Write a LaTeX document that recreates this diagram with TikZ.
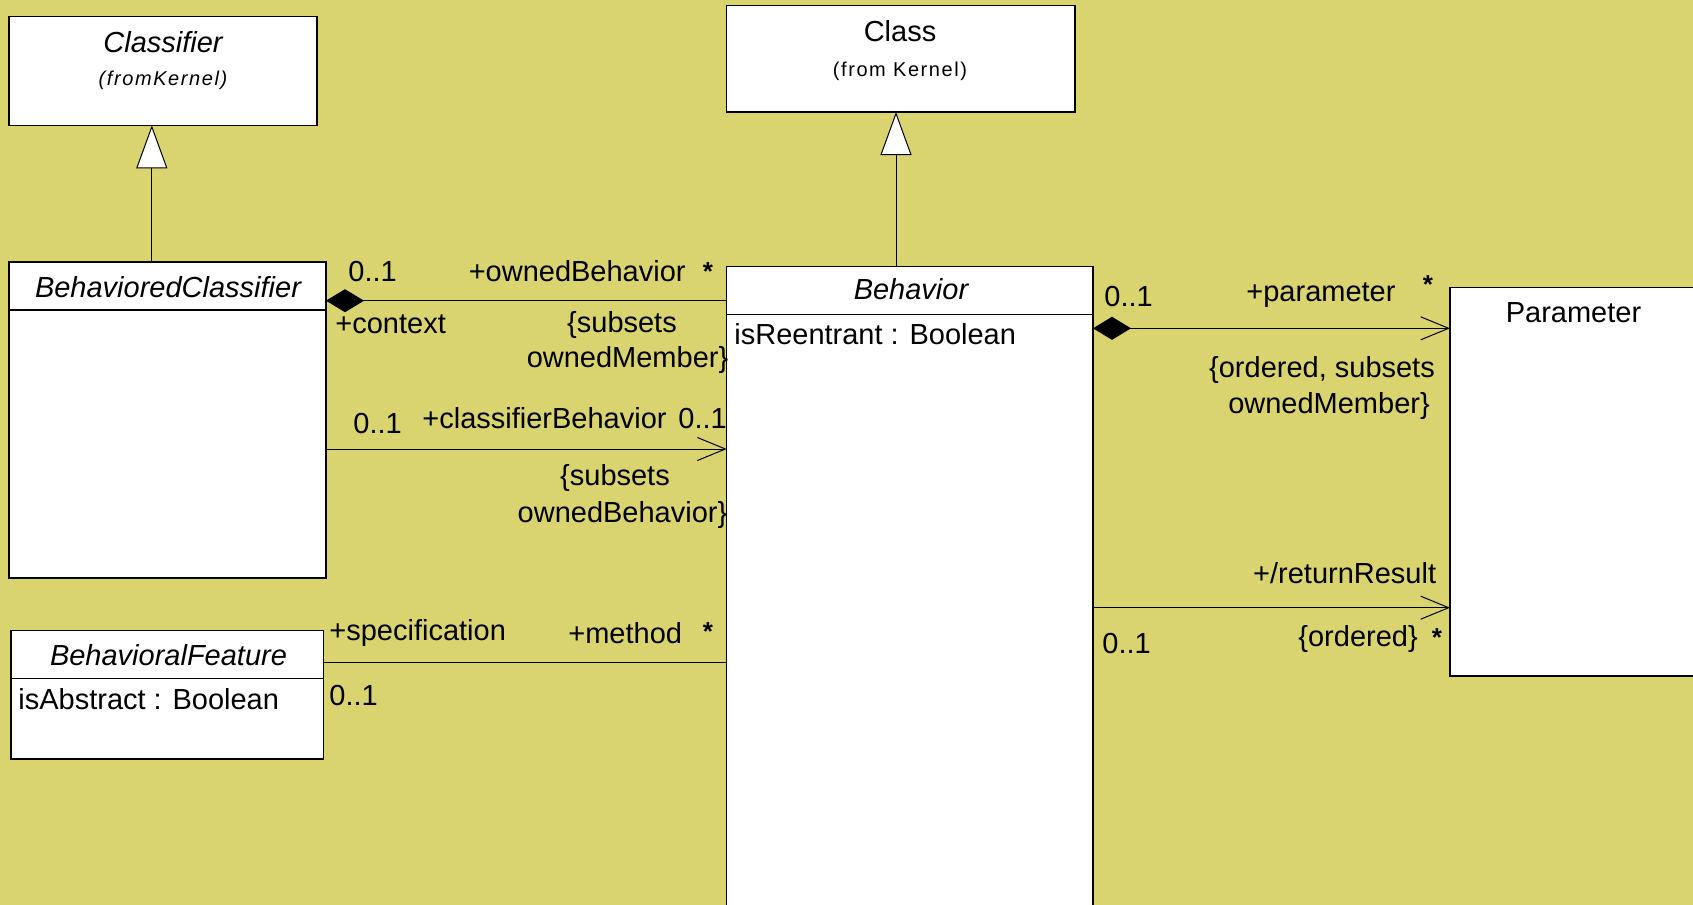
\documentclass[tikz,border=0pt]{standalone}
\usepackage{fontspec}
\setmainfont{Liberation Sans}
\newfontfamily\spacedfont[LetterSpace=8]{Liberation Sans}
\usetikzlibrary{arrows.meta}
\definecolor{canvas}{RGB}{217,212,111}
\tikzset{
  umlbox/.style={draw=black, fill=white, line width=0.65pt, anchor=north west, inner sep=0pt, outer sep=0pt},
  divider/.style={draw=black, line width=0.65pt},
  txt/.style={inner sep=0pt, font=\fontsize{14.5}{17}\selectfont},
  ttl/.style={inner sep=0pt, font=\fontsize{14.5}{17}\selectfont\itshape},
  note/.style={inner sep=0pt, font=\fontsize{10}{12}\selectfont\spacedfont},
  inote/.style={inner sep=0pt, font=\fontsize{10}{12}\selectfont\spacedfont\itshape},
  star/.style={inner sep=0pt, font=\fontsize{13}{15}\selectfont\bfseries},
  link/.style={draw=black, line width=0.5pt},
  gen/.style={link, -{Triangle[fill=white, length=21.5pt, width=15.5pt]}},
  nav/.style={link, -{Straight Barb[length=14pt, width=11.5pt]}},
  comp/.style={link, {Diamond[length=19pt, width=11.5pt]}-},
  compnav/.style={link, {Diamond[length=19pt, width=11.5pt]}-{Straight Barb[length=14pt, width=11.5pt]}},
}
\begin{document}
\begin{tikzpicture}[x=0.5pt, y=-0.5pt]
  \useasboundingbox (0,0) rectangle (1693,905);
  \clip (0,0) rectangle (1693,905);
  \fill[canvas] (0,0) rectangle (1693,905);

  % class boxes
  \node[umlbox, minimum width=154pt, minimum height=54.3pt] (cls) at (9,16.7) {};
  \node[umlbox, minimum width=174.15pt, minimum height=53.35pt] (cl) at (726.7,5.3) {};
  \node[umlbox, minimum width=158.5pt, minimum height=158pt] (bc) at (9,262) {};
  \node[umlbox, minimum width=183.15pt, minimum height=350pt] (beh) at (726.7,266.7) {};
  \node[umlbox, minimum width=123.5pt, minimum height=194.35pt] (par) at (1450,287.3) {};
  \node[umlbox, minimum width=156.2pt, minimum height=64.15pt] (bf) at (11,630.7) {};

  % compartment dividers
  \draw[divider] (bc.west |- 0,310) -- (bc.east |- 0,310);
  \draw[divider] (beh.west |- 0,314.3) -- (beh.east |- 0,314.3);
  \draw[divider] (bf.west |- 0,678.7) -- (bf.east |- 0,678.7);

  % names and attributes
  \node[ttl, anchor=base] (clsname) at (163,52) {Classifier};
  \node[inote, anchor=base] (clsfrom) at (163,85) {(fromKernel)};
  \node[txt, anchor=base] (clname) at (900,41.7) {Class};
  \node[note, anchor=base] (clfrom) at (900,76) {(from Kernel)};
  \node[ttl, anchor=base] (bcname) at (168,297) {BehavioredClassifier};
  \node[ttl, anchor=base] (behname) at (911,299) {Behavior};
  \node[txt, anchor=base west] (behattr) at (734,344) {isReentrant : Boolean};
  \node[txt, anchor=base] (parname) at (1573.5,322.7) {Parameter};
  \node[ttl, anchor=base] (bfname) at (168.5,665) {BehavioralFeature};
  \node[txt, anchor=base west] (bfattr) at (18,709) {isAbstract : Boolean};

  % generalizations
  \draw[gen] (151.8,0 |- bc.north) -- (151.8,0 |- cls.south);
  \draw[gen] (896,0 |- beh.north) -- (896,0 |- cl.south);

  % associations
  \draw[comp] (bc.east |- 0,300.7) -- (beh.west |- 0,300.7);
  \draw[nav] (bc.east |- 0,449) -- (beh.west |- 0,449);
  \draw[link] (bf.east |- 0,662.3) -- (beh.west |- 0,662.3);
  \draw[compnav] (beh.east |- 0,328.3) -- (par.west |- 0,328.3);
  \draw[nav] (beh.east |- 0,607.7) -- (par.west |- 0,607.7);

  % ends of context / ownedBehavior
  \node[txt, anchor=base west] (m1) at (348,281.7) {0..1};
  \node[txt, anchor=base east] (r1) at (686,281) {+ownedBehavior};
  \node[star] (s1) at (708,272) {*};
  \node[txt, anchor=base west] (r2) at (335,333) {+context};
  \node[txt, anchor=base] (c1a) at (622,332) {\{subsets};
  \node[txt, anchor=base] (c1b) at (627.5,367) {ownedMember\}};

  % ends of classifierBehavior
  \node[txt, anchor=base west] (m2) at (353,433) {0..1};
  \node[txt, anchor=base west] (r3) at (422,428) {+classifierBehavior};
  \node[txt, anchor=base west] (m3) at (678,428) {0..1};
  \node[txt, anchor=base] (c2a) at (615,485) {\{subsets};
  \node[txt, anchor=base] (c2b) at (622.5,522) {ownedBehavior\}};

  % ends of specification / method
  \node[txt, anchor=base west] (r4) at (329,640) {+specification};
  \node[txt, anchor=base west] (r5) at (568,643) {+method};
  \node[star] (s2) at (708,632) {*};
  \node[txt, anchor=base west] (m4) at (329,705) {0..1};

  % ends of parameter
  \node[txt, anchor=base west] (m5) at (1104,306.7) {0..1};
  \node[txt, anchor=base west] (r6) at (1246,301.7) {+parameter};
  \node[star] (s3) at (1428,285) {*};
  \node[txt, anchor=base] (c3a) at (1322,377) {\{ordered, subsets};
  \node[txt, anchor=base] (c3b) at (1329,413) {ownedMember\}};

  % ends of returnResult
  \node[txt, anchor=base east] (r7) at (1436.5,583) {+/returnResult};
  \node[txt, anchor=base west] (c4) at (1298,646.7) {\{ordered\}};
  \node[star] (s4) at (1437,638) {*};
  \node[txt, anchor=base west] (m6) at (1102,653) {0..1};
\end{tikzpicture}
\end{document}
